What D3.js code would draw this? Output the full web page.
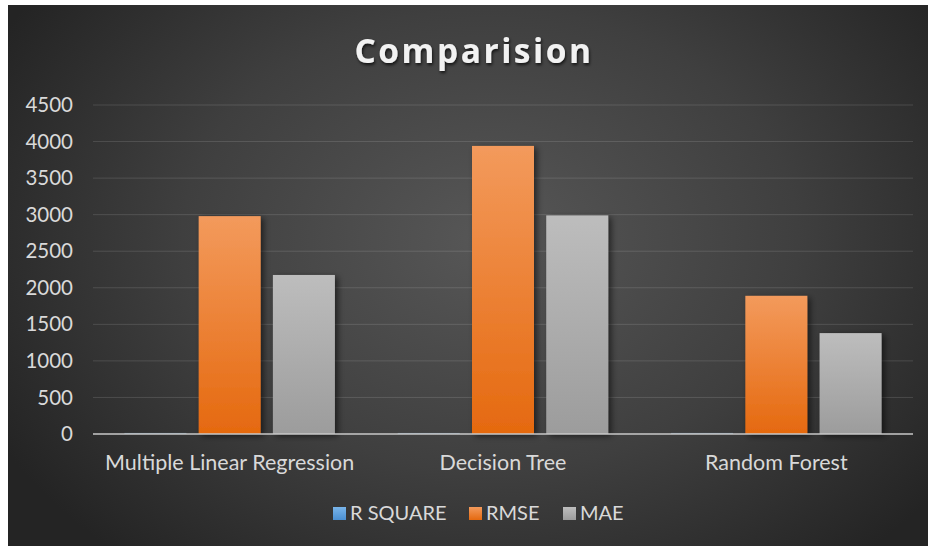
<!DOCTYPE html>
<html>
<head>
<meta charset="utf-8">
<script src="https://cdn.jsdelivr.net/npm/d3@7"></script>
<style>
  html, body { margin: 0; padding: 0; background: #ffffff; }
  svg { display: block; }
  text { font-family: Lato, "Open Sans", sans-serif; }
</style>
</head>
<body>
<svg id="chart" width="928" height="547"></svg>
<script>
// Model comparison data
const categories = ["Multiple Linear Regression", "Decision Tree", "Random Forest"];
const seriesNames = ["R SQUARE", "RMSE", "MAE"];
const rSquare = [0.75, 0.62, 0.86];
const rmse = [2980, 3940, 1890];
const mae = [2175, 2990, 1380];
const yTicks = [0, 500, 1000, 1500, 2000, 2500, 3000, 3500, 4000, 4500];
const title = "Comparision";

const seriesValues = [rSquare, rmse, mae];
const rows = categories.map((c, i) => ({
  category: c,
  values: seriesNames.map((s, j) => ({ series: s, value: seriesValues[j][i] }))
}));

const frame = { x: 8, y: 5, w: 920, h: 541 };
const plot = { left: 93, right: 913, top: 105, bottom: 434 };

const svg = d3.select("#chart");
const defs = svg.append("defs");

// Background radial gradient
const bg = defs.append("radialGradient").attr("id", "bgGrad")
  .attr("gradientUnits", "userSpaceOnUse")
  .attr("cx", 490).attr("cy", 240).attr("r", 560)
  .attr("gradientTransform", "translate(490,240) scale(1,0.75) translate(-490,-240)");
bg.append("stop").attr("offset", 0).attr("stop-color", "#575757");
bg.append("stop").attr("offset", 0.55).attr("stop-color", "#3f3f3f");
bg.append("stop").attr("offset", 1).attr("stop-color", "#242424");

// Bar gradients
const fills = {
  "R SQUARE": ["#79b5ea", "#4a8fd2"],
  "RMSE": ["#f39a5c", "#e5690f"],
  "MAE": ["#bdbdbd", "#9c9c9c"]
};
seriesNames.forEach((s, i) => {
  const g = defs.append("linearGradient").attr("id", "barGrad" + i)
    .attr("x1", 0).attr("y1", 0).attr("x2", 0).attr("y2", 1);
  g.append("stop").attr("offset", 0).attr("stop-color", fills[s][0]);
  g.append("stop").attr("offset", 1).attr("stop-color", fills[s][1]);
});

const shadow = defs.append("filter").attr("id", "barShadow")
  .attr("x", "-30%").attr("y", "-10%").attr("width", "160%").attr("height", "120%");
shadow.append("feDropShadow").attr("dx", 3).attr("dy", 2)
  .attr("stdDeviation", 3).attr("flood-color", "#000").attr("flood-opacity", 0.55);

const titleShadow = defs.append("filter").attr("id", "titleShadow")
  .attr("x", "-10%").attr("y", "-30%").attr("width", "120%").attr("height", "160%");
titleShadow.append("feDropShadow").attr("dx", 1).attr("dy", 2)
  .attr("stdDeviation", 1.5).attr("flood-color", "#000").attr("flood-opacity", 0.7);

svg.append("rect")
  .attr("x", frame.x).attr("y", frame.y)
  .attr("width", frame.w).attr("height", frame.h)
  .attr("fill", "url(#bgGrad)");

// Scales
const x0 = d3.scaleBand().domain(categories).range([plot.left, plot.right]).padding(0);
const groupInset = 0.115;
const x1 = d3.scaleBand().domain(seriesNames)
  .range([x0.bandwidth() * groupInset, x0.bandwidth() * (1 - groupInset)])
  .paddingInner(0.165).paddingOuter(0);
const y = d3.scaleLinear().domain([0, 4500]).range([plot.bottom, plot.top]);

// Gridlines
svg.append("g")
  .selectAll("line")
  .data(yTicks.filter(t => t > 0))
  .join("line")
  .attr("x1", plot.left).attr("x2", plot.right)
  .attr("y1", d => y(d)).attr("y2", d => y(d))
  .attr("stroke", "#ffffff").attr("stroke-opacity", 0.13).attr("stroke-width", 1);

// Y axis labels
const yAxis = d3.axisLeft(y).tickValues(yTicks).tickSize(0).tickPadding(0)
  .tickFormat(d3.format("d"));
const yg = svg.append("g").attr("transform", `translate(73,0)`).call(yAxis);
yg.select(".domain").remove();
yg.selectAll("text")
  .attr("fill", "#d9d9d9")
  .style("font-size", "20.5px")
  .style("font-family", "Lato, sans-serif");

// Bars
const groups = svg.append("g").selectAll("g")
  .data(rows)
  .join("g")
  .attr("transform", d => `translate(${x0(d.category)},0)`);

groups.selectAll("rect")
  .data(d => d.values)
  .join("rect")
  .attr("x", d => x1(d.series))
  .attr("width", x1.bandwidth())
  .attr("y", d => y(d.value))
  .attr("height", d => y(0) - y(d.value))
  .attr("fill", d => "url(#barGrad" + seriesNames.indexOf(d.series) + ")")
  .attr("filter", d => d.series === "R SQUARE" ? null : "url(#barShadow)");

// Baseline axis
const xAxis = d3.axisBottom(x0).tickSize(0).tickPadding(0);
const xg = svg.append("g").attr("transform", `translate(0,${plot.bottom})`).call(xAxis);
xg.select(".domain")
  .attr("stroke", "#c8c8c8").attr("stroke-width", 1.5)
  .attr("d", `M${plot.left},0H${plot.right}`);
xg.selectAll(".tick text")
  .attr("y", 21)
  .attr("fill", "#d9d9d9")
  .style("font-size", "21.5px")
  .style("font-family", "Lato, sans-serif");

// Faint blue trace of the near-zero R SQUARE bars along the baseline
groups.selectAll("line.rsq")
  .data(d => d.values.filter(v => v.series === "R SQUARE"))
  .join("line")
  .attr("class", "rsq")
  .attr("x1", d => x1(d.series)).attr("x2", d => x1(d.series) + x1.bandwidth())
  .attr("y1", d => y(d.value) - 0.5).attr("y2", d => y(d.value) - 0.5)
  .attr("stroke", "#8fc0ea").attr("stroke-opacity", 0.6).attr("stroke-width", 1);

// Title
svg.append("text")
  .attr("x", 474).attr("y", 63)
  .attr("text-anchor", "middle")
  .attr("fill", "#f2f2f2")
  .attr("filter", "url(#titleShadow)")
  .style("font-size", "33.5px")
  .style("font-weight", "bold")
  .style("letter-spacing", "2.5px")
  .style("font-family", "'Open Sans', sans-serif")
  .text(title);

// Legend
const legendX = [333, 469, 563];
const legend = svg.append("g").selectAll("g")
  .data(seriesNames)
  .join("g")
  .attr("transform", (d, i) => `translate(${legendX[i]},507)`);
legend.append("rect")
  .attr("width", 13).attr("height", 13)
  .attr("fill", (d, i) => "url(#barGrad" + i + ")");
legend.append("text")
  .attr("x", 17).attr("y", 13)
  .attr("fill", "#d9d9d9")
  .style("font-size", "20px")
  .text(d => d);
</script>
</body>
</html>
